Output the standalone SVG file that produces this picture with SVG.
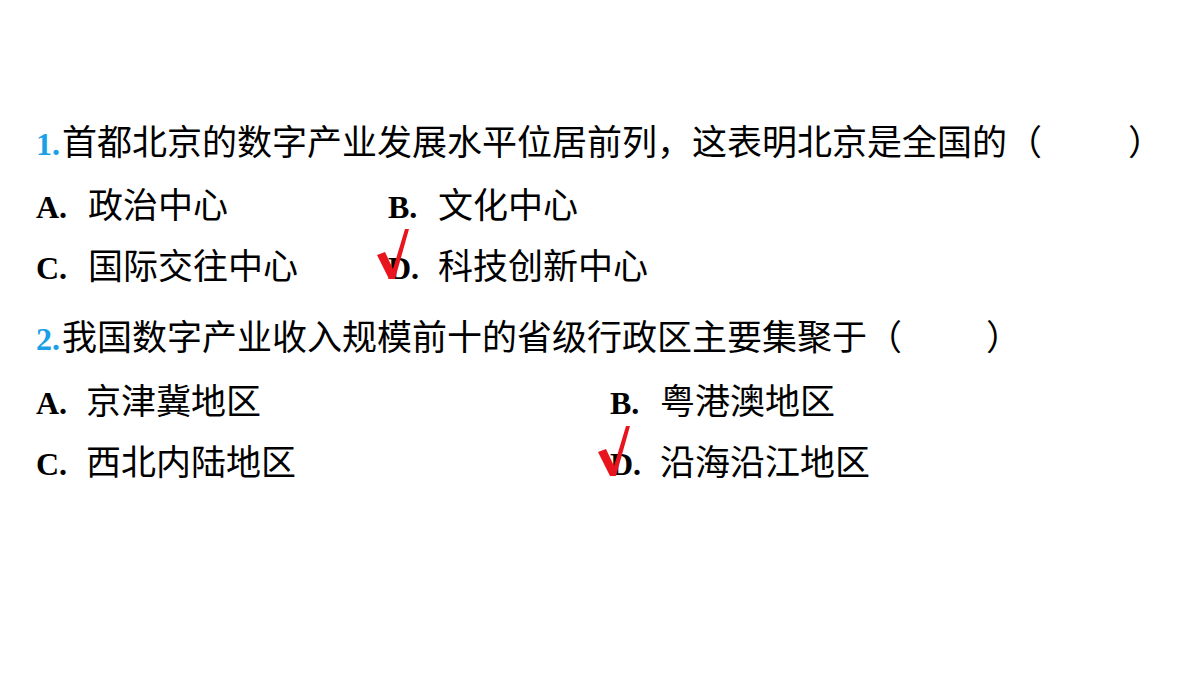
<svg xmlns="http://www.w3.org/2000/svg" width="1200" height="675" viewBox="0 0 1200 675">
<style>
.t{font-family:"Noto Sans CJK SC",sans-serif;font-size:35px;fill:#000}
.l{font-family:"Liberation Serif",serif;font-size:32px;font-weight:bold;fill:#000}
.n{font-family:"Liberation Serif",serif;font-size:32px;font-weight:bold;fill:#1aa0e6}
</style>
<defs>
<path id="chk" d="M0,0 L8,-3 L16,14 L28,-26 L32,-26 L18,24 L12,24 Z" fill="#e8141e"/>
</defs>
<rect width="1200" height="675" fill="#fff"/>
<g id="q1">
<text class="n" x="36" y="155">1.</text>
<text class="t" x="62" y="155">首都北京的数字产业发展水平位居前列，这表明北京是全国的（</text>
<text class="t" x="1128" y="155">）</text>
<text class="l" x="36" y="218">A.</text><text class="t" x="88" y="218">政治中心</text>
<text class="l" x="388" y="218">B.</text><text class="t" x="438" y="218">文化中心</text>
<text class="l" x="36" y="279">C.</text><text class="t" x="88" y="279">国际交往中心</text>
<text class="l" x="388" y="279">D.</text><text class="t" x="438" y="279">科技创新中心</text>
<use href="#chk" x="377" y="255"/>
</g>
<g id="q2">
<text class="n" x="36" y="350">2.</text>
<text class="t" x="62" y="350">我国数字产业收入规模前十的省级行政区主要集聚于（</text>
<text class="t" x="986" y="350">）</text>
<text class="l" x="36" y="414">A.</text><text class="t" x="86" y="414">京津冀地区</text>
<text class="l" x="610" y="414">B.</text><text class="t" x="660" y="414">粤港澳地区</text>
<text class="l" x="36" y="475">C.</text><text class="t" x="86" y="475">西北内陆地区</text>
<text class="l" x="610" y="475">D.</text><text class="t" x="660" y="475">沿海沿江地区</text>
<use href="#chk" x="598" y="452"/>
</g>
</svg>
